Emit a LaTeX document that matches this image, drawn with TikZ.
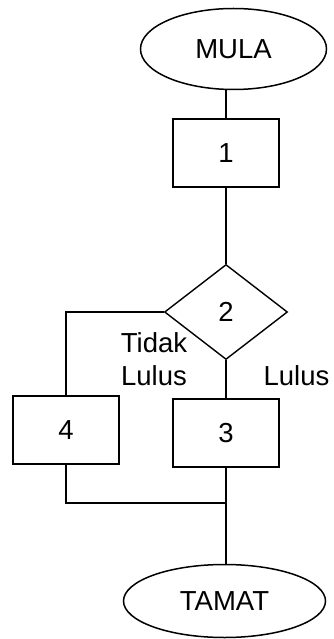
\documentclass[tikz,border=0pt]{standalone}
\usepackage{fontspec}
\setmainfont{Liberation Sans}
\usepackage{tikz}
\usetikzlibrary{shapes.geometric,positioning}
\tikzstyle{term} = [draw, ellipse, line width=1.5pt, inner sep=0pt]
\tikzstyle{proc} = [draw, rectangle, line width=1.4pt, inner sep=0pt, minimum width=106pt, minimum height=68pt]
\tikzstyle{dec} = [draw, diamond, line width=1.4pt, inner sep=0pt, minimum width=123pt, minimum height=95pt]
\tikzstyle{link} = [line width=1.2pt]
\tikzstyle{lbl} = [inner sep=0pt, align=center]

\begin{document}
\begin{tikzpicture}[x=1pt, y=-1pt, font=\fontsize{27.5}{33}\selectfont]
\useasboundingbox (0,0) rectangle (334,639);

\node[term, minimum width=186pt, minimum height=81pt] (mula) at (233.5,49) {MULA};
\node[proc] (p1) at (226,153) {1};
\node[dec] (d2) at (226,312) {2};
\node[proc] (p4) at (66,430) {4};
\node[proc] (p3) at (226,433) {3};
\node[term, minimum width=202pt, minimum height=73pt] (tamat) at (224.5,601) {TAMAT};
\coordinate (join) at (226,503);

\draw[link] (p1.north) -- (p1.north |- mula.south);
\draw[link] (p1.south) -- (d2.north);
\draw[link] (d2.west) -| (p4.north);
\draw[link] (d2.south) -- (p3.north);
\draw[link] (p4.south) |- (join);
\draw[link] (p3.south) -- (p3.south |- tamat.north);

\node[lbl] (tidak) at (154,359) {Tidak\\Lulus};
\node[lbl] (lulus) at (296.5,375.5) {Lulus};
\end{tikzpicture}
\end{document}
